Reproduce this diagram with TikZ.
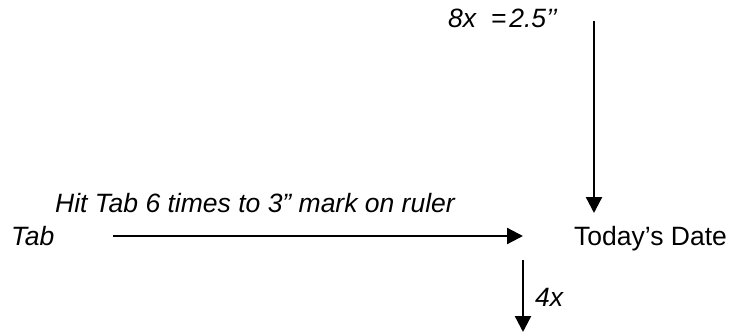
\documentclass[tikz,border=0pt]{standalone}
\usepackage{fontspec}
\setmainfont{Liberation Sans}
\usetikzlibrary{arrows.meta}
\begin{document}
\begin{tikzpicture}[x=1pt,y=-1pt,
  lbl/.style={font=\fontsize{26.5}{31}\selectfont, inner sep=0pt, anchor=base west},
  ilbl/.style={lbl, font=\fontsize{26.5}{31}\selectfont\itshape},
  conn/.style={line width=2.3pt, -{Triangle[length=16pt,width=16pt]}}]
\useasboundingbox (0,0) rectangle (731,333);
\node[ilbl] (eq) at (448,27) {8x\hspace{0.55em}=\hspace{0.12em}2.5’’};
\node[ilbl] (hit) at (55,212) {Hit Tab 6 times to 3” mark on ruler};
\node[ilbl] (tab) at (11,245) {Tab};
\node[lbl] (date) at (574,245) {Today’s Date};
\node[ilbl] (four) at (535,306) {4x};
\coordinate (topstart) at (594,21);
\coordinate (topend) at (594,213);
\coordinate (hstart) at (113,236);
\coordinate (hend) at (523,236);
\coordinate (dstart) at (523,260);
\coordinate (dend) at (523,332);
\draw[conn] (topstart) -- (topend);
\draw[conn] (hstart) -- (hend);
\draw[conn] (dstart) -- (dend);
\end{tikzpicture}
\end{document}
